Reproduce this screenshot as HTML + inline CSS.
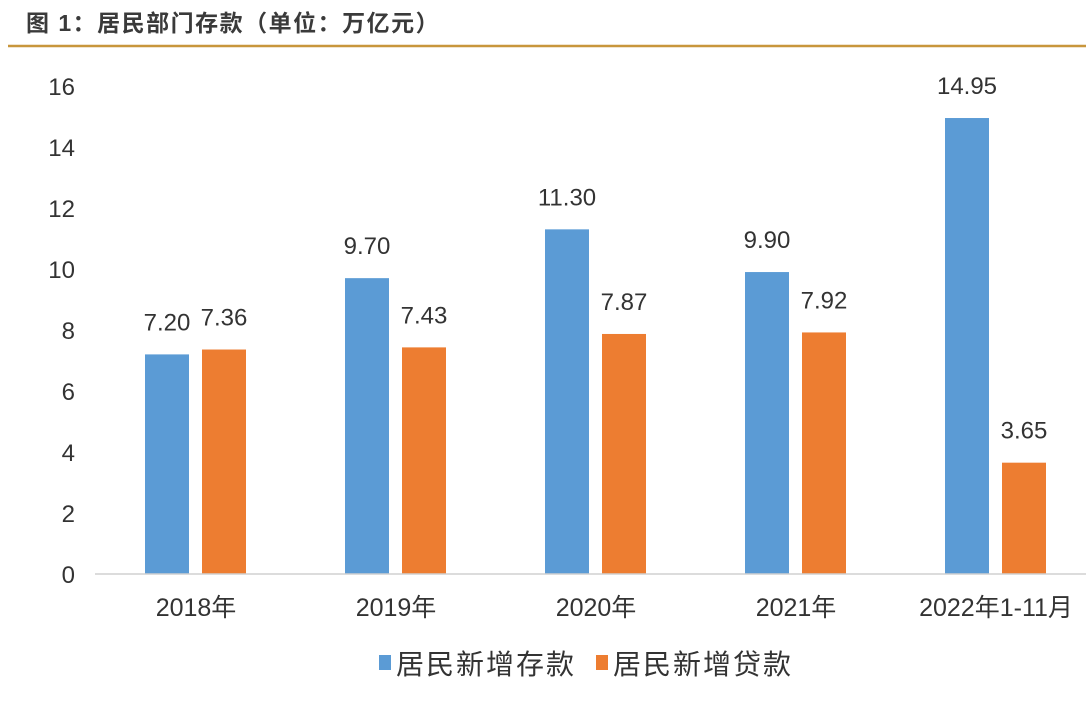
<!DOCTYPE html>
<html><head><meta charset="utf-8">
<style>
html,body{margin:0;padding:0;background:#fff;}
body{width:1086px;height:696px;overflow:hidden;font-family:"Liberation Sans","Noto Sans CJK SC",sans-serif;}
</style></head>
<body>
<svg id="chart" width="1086" height="696" xmlns="http://www.w3.org/2000/svg" font-family="Liberation Sans, Noto Sans CJK SC, sans-serif">
<text x="26" y="31" font-size="23" font-weight="bold" fill="#3a3a3a" letter-spacing="1.5">图 1：居民部门存款（单位：万亿元）</text>
<line x1="8" y1="46" x2="1086" y2="46" stroke="#c8963c" stroke-width="2.5"/>
<g id="yaxis"></g>
<g id="bars"></g>
<line x1="95" y1="574" x2="1095" y2="574" stroke="#d0d0d0" stroke-width="1.5"/>
<g id="xaxis"></g>
<g>
<rect x="379" y="655" width="12" height="15" fill="#5b9bd5"/>
<text x="396" y="674" font-size="28" fill="#333" letter-spacing="2">居民新增存款</text>
<rect x="596" y="655" width="12" height="15" fill="#ed7d31"/>
<text x="613" y="674" font-size="28" fill="#333" letter-spacing="2">居民新增贷款</text>
</g>
</svg>
<script>
const categories=["2018年","2019年","2020年","2021年","2022年1-11月"];
const deposits=[7.20,9.70,11.30,9.90,14.95];
const loans=[7.36,7.43,7.87,7.92,3.65];
const yTicks=[0,2,4,6,8,10,12,14,16];
const NS="http://www.w3.org/2000/svg";
const y=v=>574-v*30.5;
const xc=i=>196+i*200;
function mk(tag,attrs,parent,txt){const e=document.createElementNS(NS,tag);for(const k in attrs)e.setAttribute(k,attrs[k]);if(txt!==undefined)e.textContent=txt;parent.appendChild(e);return e;}
const ya=document.getElementById('yaxis'),bg=document.getElementById('bars'),xa=document.getElementById('xaxis');
yTicks.forEach(t=>{const e=mk('text',{x:75,y:y(t)+9,'font-size':24,fill:'#333','text-anchor':'end'},ya,String(t));

});
categories.forEach((c,i)=>{
const b1=mk('rect',{x:xc(i)-51,y:y(deposits[i]),width:44,height:574-y(deposits[i]),fill:'#5b9bd5'},bg);


const b2=mk('rect',{x:xc(i)+6,y:y(loans[i]),width:44,height:574-y(loans[i]),fill:'#ed7d31'},bg);


const l1=mk('text',{x:xc(i)-29,y:y(deposits[i])-24,'font-size':24,fill:'#333','text-anchor':'middle'},bg,deposits[i].toFixed(2));


const l2=mk('text',{x:xc(i)+28,y:y(loans[i])-24,'font-size':24,fill:'#333','text-anchor':'middle'},bg,loans[i].toFixed(2));


const xl=mk('text',{x:xc(i),y:616,'font-size':25,fill:'#333','text-anchor':'middle'},xa,c);


});
</script>
</body></html>
